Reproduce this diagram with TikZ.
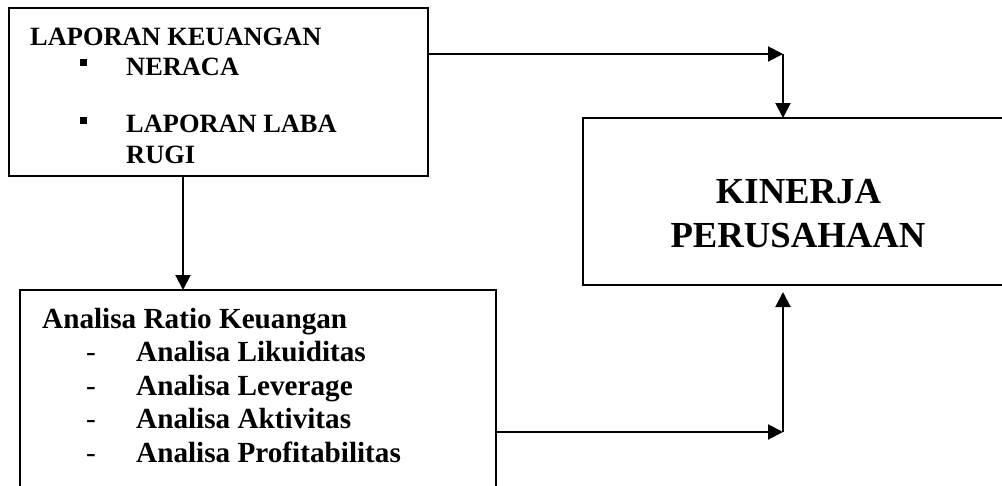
\documentclass[tikz,border=0pt]{standalone}
\usepackage{fontspec}
\setmainfont{Liberation Serif}
\usetikzlibrary{arrows.meta}
\tikzstyle{kotak} = [rectangle, draw=black, line width=2pt, inner sep=0pt, outer sep=0pt, anchor=north west]
\tikzstyle{panah} = [line width=2pt, -{Triangle[length=15pt,width=15pt]}]
\tikzstyle{tulisanLap} = [inner sep=0pt, anchor=base west, font=\bfseries\fontsize{26.4}{30}\selectfont]
\tikzstyle{tulisanAna} = [inner sep=0pt, anchor=base west, font=\bfseries\fontsize{29.2}{33}\selectfont]
\tikzstyle{tulisanKin} = [inner sep=0pt, anchor=base, font=\bfseries\fontsize{36.7}{44}\selectfont]
\tikzstyle{titik} = [rectangle, fill=black, minimum size=7pt, inner sep=0pt]

\begin{document}
\begin{tikzpicture}[x=1pt,y=-1pt]

        \useasboundingbox (0,0) rectangle (1002,485);
        \clip (0,0) rectangle (1002,485);

        \node (lap) [kotak, minimum width=419pt, minimum height=168pt] at (9,8) {};
        \node (judulLap) [tulisanLap] at (30,45) {LAPORAN KEUANGAN};
        \node (titik1) [titik] at (83.5,62.7) {};
        \node (neraca) [tulisanLap] at (126,75) {NERACA};
        \node (titik2) [titik] at (83.5,120.5) {};
        \node (laba) [tulisanLap] at (126,132) {LAPORAN LABA};
        \node (rugi) [tulisanLap] at (126,163) {RUGI};

        \node (ana) [kotak, minimum width=476pt, minimum height=220pt] at (20,290) {};
        \node (judulAna) [tulisanAna] at (42,328) {Analisa Ratio Keuangan};
        \foreach \jenis [count=\i] in {Likuiditas, Leverage, Aktivitas, Profitabilitas} {
            \node (strip\i) [tulisanAna] at (86,328+33.5*\i) {\mdseries -};
            \node (analisa\i) [tulisanAna] at (136,328+33.5*\i) {Analisa \jenis};
        }

        \node (kin) [kotak, minimum width=440pt, minimum height=167pt] at (583,118) {};
        \node (kinerja) [tulisanKin] at (798.5,203) {KINERJA};
        \node (perusahaan) [tulisanKin] at (798,247) {PERUSAHAAN};

        \coordinate (turun) at (183,0);
        \coordinate (belok1) at (783,54);
        \coordinate (belok2) at (783,432);
        \coordinate (ujung) at (783,292);

        \draw[panah] (lap.south -| turun) -- (ana.north -| turun);
        \draw[panah] (lap.east |- belok1) -- (belok1);
        \draw[panah] (belok1) -- (belok1 |- kin.north);
        \draw[panah] (ana.east |- belok2) -- (belok2);
        \draw[panah] (belok2) -- (ujung);

\end{tikzpicture}
\end{document}
